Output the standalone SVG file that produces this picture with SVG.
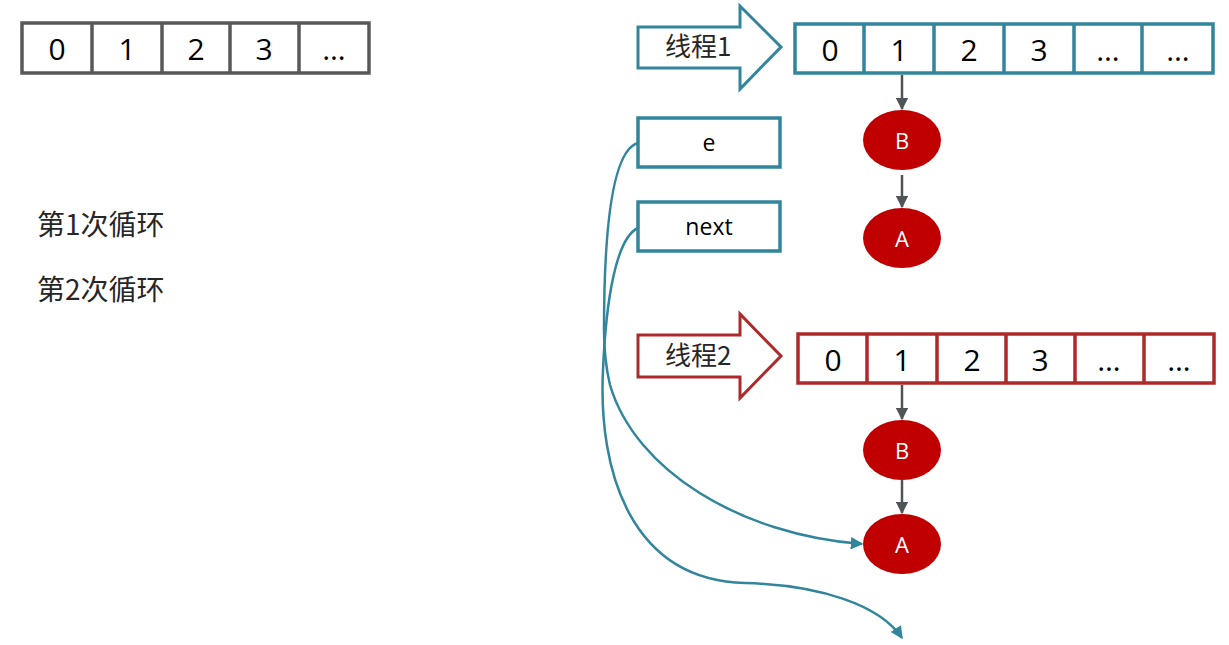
<svg xmlns="http://www.w3.org/2000/svg" width="1229" height="645" viewBox="0 0 1229 645">
<style>
.cell{fill:#fff;stroke-width:3.5}
.g{stroke:#595959}
.b{stroke:#31859C}
.r{stroke:#AE2A2A}
.num{font-family:"Open Sans","Noto Sans","Noto Sans CJK SC",sans-serif;font-size:30px;fill:#000;text-anchor:middle;dominant-baseline:central}
.lbl{font-family:"Noto Sans CJK SC","Noto Sans",sans-serif;font-size:26px;fill:#262626}
.lp{font-family:"Noto Sans CJK SC","Noto Sans",sans-serif;font-size:28px;fill:#262626}
.box{font-family:"Open Sans","Noto Sans",sans-serif;font-size:23px;fill:#000;text-anchor:middle;dominant-baseline:central}
.node{fill:#C00000}
.nt{font-family:"Open Sans","Noto Sans",sans-serif;font-size:22px;fill:#fff;text-anchor:middle;dominant-baseline:central}
.gl{stroke:#4F5457;stroke-width:2.5;fill:none}
.bl{stroke:#31859C;stroke-width:2.5;fill:none}
</style>
<defs>
<marker id="ag" viewBox="0 0 10 10" refX="9" refY="5" markerWidth="5" markerHeight="5" orient="auto" markerUnits="strokeWidth"><path d="M0,0L10,5L0,10z" fill="#4F5457"/></marker>
<marker id="ab" viewBox="0 0 10 10" refX="9" refY="5" markerWidth="5" markerHeight="5" orient="auto" markerUnits="strokeWidth"><path d="M0,0L10,5L0,10z" fill="#31859C"/></marker>
</defs>

<g id="array0">
<rect class="cell g" x="22" y="23" width="347" height="50"/>
<path class="g" stroke-width="3.5" d="M92,23V73M162,23V73M230,23V73M299,23V73"/>
<text class="num" x="57" y="48">0</text>
<text class="num" x="127" y="48">1</text>
<text class="num" x="196" y="48">2</text>
<text class="num" x="264" y="48">3</text>
<text class="num" x="334" y="48">…</text>
</g>

<g id="loop1"><text class="lp" x="37" y="235">第1次循环</text></g>
<g id="loop2"><text class="lp" x="37" y="300">第2次循环</text></g>

<g id="thread1">
<path d="M638,27H740V6L781,47L740,89V68H638Z" fill="#fff" stroke="#31859C" stroke-width="3" stroke-linejoin="miter"/>
<text class="lbl" x="665" y="56">线程1</text>
</g>
<g id="array1">
<rect class="cell b" x="795" y="24" width="418" height="49"/>
<path class="b" stroke-width="3.5" d="M864,24V73M934,24V73M1004,24V73M1074,24V73M1142,24V73"/>
<text class="num" x="830" y="49">0</text>
<text class="num" x="899" y="49">1</text>
<text class="num" x="969" y="49">2</text>
<text class="num" x="1039" y="49">3</text>
<text class="num" x="1108" y="49">…</text>
<text class="num" x="1178" y="49">…</text>
</g>

<g id="e">
<rect class="cell b" x="638" y="118" width="142" height="49"/>
<text class="box" x="709" y="142">e</text>
</g>
<g id="next">
<rect class="cell b" x="638" y="202" width="142" height="49"/>
<text class="box" x="709" y="226">next</text>
</g>

<g id="B1"><ellipse class="node" cx="902" cy="140" rx="39" ry="30"/><text class="nt" x="902" y="140">B</text></g>
<g id="A1"><ellipse class="node" cx="902" cy="238" rx="39" ry="30"/><text class="nt" x="902" y="238">A</text></g>

<g id="thread2">
<path d="M638,335H740V314L781,356L740,398V377H638Z" fill="#fff" stroke="#AE2A2A" stroke-width="3" stroke-linejoin="miter"/>
<text class="lbl" x="665" y="365">线程2</text>
</g>
<g id="array2">
<rect class="cell r" x="798" y="334" width="416" height="49"/>
<path class="r" stroke-width="3.5" d="M867,334V383M937,334V383M1006,334V383M1075,334V383M1144,334V383"/>
<text class="num" x="833" y="359">0</text>
<text class="num" x="902" y="359">1</text>
<text class="num" x="972" y="359">2</text>
<text class="num" x="1040" y="359">3</text>
<text class="num" x="1109" y="359">…</text>
<text class="num" x="1179" y="359">…</text>
</g>

<g id="B2"><ellipse class="node" cx="902" cy="450" rx="39" ry="30"/><text class="nt" x="902" y="450">B</text></g>
<g id="A2"><ellipse class="node" cx="902" cy="544" rx="39" ry="30"/><text class="nt" x="902" y="544">A</text></g>

<g id="connectors">
<path class="gl" d="M902,75V109" marker-end="url(#ag)"/>
<path class="gl" d="M902,175V207" marker-end="url(#ag)"/>
<path class="gl" d="M902,385V419" marker-end="url(#ag)"/>
<path class="gl" d="M902,480V513" marker-end="url(#ag)"/>
<path class="bl" d="M638,143C612,150 604,230 604,330C604,350 606,368 610,385C635,470 740,535 862,544" marker-end="url(#ab)"/>
<path class="bl" d="M638,228C616,238 606,300 603,370C598,470 630,580 745,583C820,585 880,605 902,638" marker-end="url(#ab)"/>
</g>
</svg>
